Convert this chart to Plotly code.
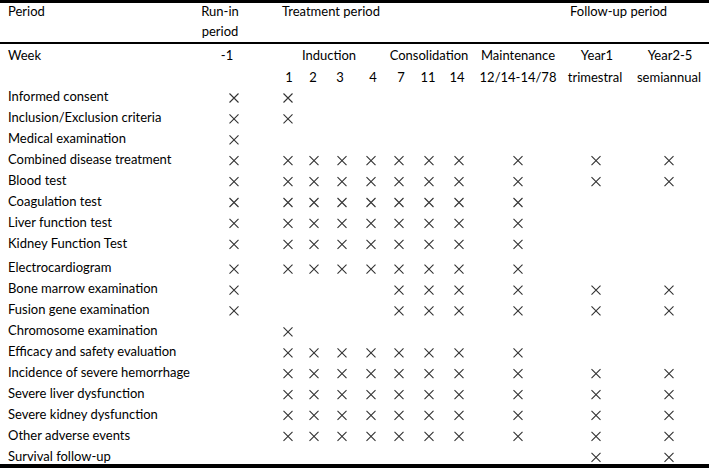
import plotly.graph_objects as go

# table content
items = [
    "Informed consent",
    "Inclusion/Exclusion criteria",
    "Medical examination",
    "Combined disease treatment",
    "Blood test",
    "Coagulation test",
    "Liver function test",
    "Kidney Function Test",
    "Electrocardiogram",
    "Bone marrow examination",
    "Fusion gene examination",
    "Chromosome examination",
    "Efficacy and safety evaluation",
    "Incidence of severe hemorrhage",
    "Severe liver dysfunction",
    "Severe kidney dysfunction",
    "Other adverse events",
    "Survival follow-up",
]
columns = ["-1", "1", "2", "3", "4", "7", "11", "14", "M", "Y1", "Y2"]
week_labels = ["1", "2", "3", "4", "7", "11", "14", "12/14-14/78", "trimestral", "semiannual"]
phase_labels = ["-1", "Induction", "Consolidation", "Maintenance", "Year1", "Year2-5"]
period_labels = ["Run-in", "period", "Treatment period", "Follow-up period"]

# 1 = visit done in that column
checks = [
    "11000000000",
    "11000000000",
    "10000000000",
    "11111111111",
    "11111111111",
    "11111111100",
    "11111111100",
    "11111111100",
    "11111111100",
    "10000111111",
    "10000111111",
    "01000000000",
    "01111111100",
    "01111111111",
    "01111111111",
    "01111111111",
    "01111111111",
    "00000000011",
]

# layout: column centres (px) and row positions (row units, 20.9 px each)
COL_X = dict(zip(columns, [234, 288, 314, 342, 371, 399, 429, 459, 518, 596, 669]))
ROW_Y = [i + (0.19 if i >= 8 else 0) for i in range(len(items))]
FONT = "Lato"
TXT = "#000000"


def px_to_row(px):
    return (px - 98) / 20.9


def text_trace(x, y, text, pos):
    return go.Scatter(
        x=x, y=y, mode="text", text=text, textposition=pos,
        textfont=dict(family=FONT, size=13, color=TXT), hoverinfo="skip",
    )


fig = go.Figure()

# item labels
fig.add_trace(text_trace([8] * len(items), ROW_Y, items, "middle right"))

# crosses
xs, ys = [], []
for r, row in enumerate(checks):
    for c, flag in enumerate(row):
        if flag == "1":
            xs.append(COL_X[columns[c]])
            ys.append(ROW_Y[r])
fig.add_trace(go.Scatter(
    x=xs, y=ys, mode="markers",
    marker=dict(symbol="x-thin", size=9, line=dict(width=1.1, color="#333333")),
    hoverinfo="skip",
))

# header rows
y_period, y_period2, y_week, y_num = px_to_row(13), px_to_row(33), px_to_row(56.5), px_to_row(78.5)
fig.add_trace(text_trace([8, 8], [y_period, y_week], ["Period", "Week"], "middle right"))
fig.add_trace(text_trace([220, 220], [y_period, y_period2], period_labels[:2], "middle center"))
fig.add_trace(text_trace([282, 570], [y_period] * 2, period_labels[2:], "middle right"))
fig.add_trace(text_trace([227, 329, 429, 518, 597, 670], [y_week] * 6, phase_labels, "middle center"))
fig.add_trace(text_trace([289, 313, 340, 373, 401, 428, 457, 518, 595, 669], [y_num] * 10,
                         week_labels, "middle center"))

# horizontal rules (pixel rows of the table)
for y0, y1 in [(0, 3), (42, 44), (464, 468)]:
    fig.add_shape(type="rect", xref="x", yref="y", x0=0, x1=709,
                  y0=px_to_row(y0), y1=px_to_row(y1),
                  fillcolor="black", line=dict(width=0), layer="above")

fig.update_layout(
    width=709, height=468,
    margin=dict(l=0, r=0, t=0, b=0),
    paper_bgcolor="white", plot_bgcolor="white",
    showlegend=False,
    xaxis=dict(range=[0, 709], visible=False, fixedrange=True),
    yaxis=dict(range=[px_to_row(468), px_to_row(0)], visible=False, fixedrange=True),
)

fig.write_html("out.html", config={"displayModeBar": False},
               post_script="document.body.style.margin='0';")
